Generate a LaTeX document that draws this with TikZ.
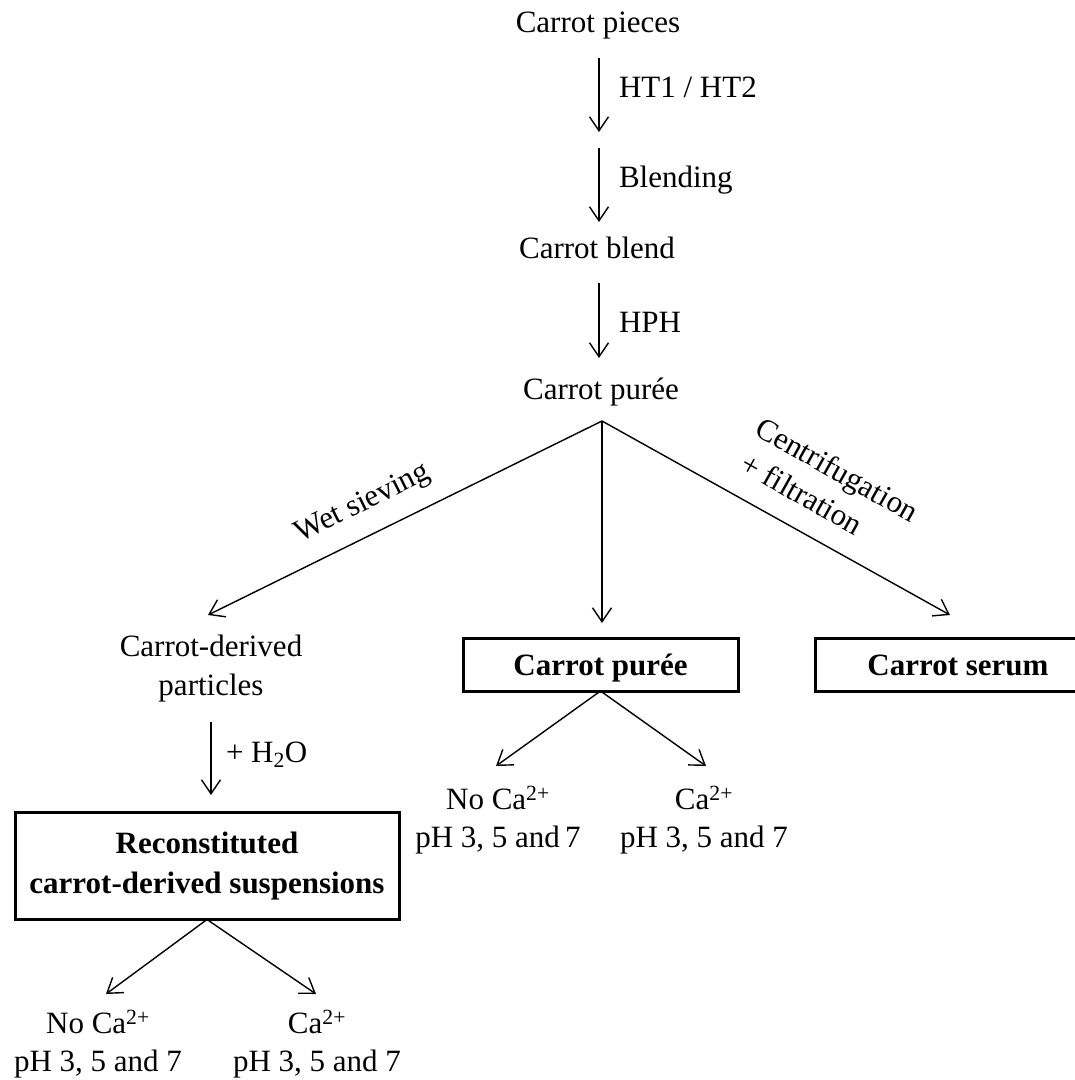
\documentclass[tikz,border=0pt]{standalone}
\usepackage{fontspec}
\setmainfont{Liberation Serif}
\usetikzlibrary{arrows.meta}
\begin{document}
\begin{tikzpicture}[x=1pt,y=-1pt,
  txt/.style={font=\fontsize{31}{38.6}\selectfont, inner sep=0pt, outer sep=0pt},
  arr/.style={-{Straight Barb[length=14pt,width=19pt]}, line width=1.4pt},
  box/.style={draw, line width=3pt, inner sep=0pt, outer sep=0pt,
    font=\fontsize{31}{39.4}\selectfont\bfseries, align=center}]
\useasboundingbox (0,0) rectangle (1075,1080);

% ---- main chain
\node[txt, anchor=base] (pieces) at (598,32) {Carrot pieces};
\node[txt, anchor=base] (blend) at (597,258) {Carrot blend};
\node[txt, anchor=base] (puree) at (601,399) {Carrot purée};

\coordinate (a1s) at (599,58);  \coordinate (a1e) at (599,132);
\coordinate (a2s) at (599,148); \coordinate (a2e) at (599,222);
\coordinate (a3s) at (599,283); \coordinate (a3e) at (599,358);
\draw[arr] (a1s) -- (a1e);
\draw[arr] (a2s) -- (a2e);
\draw[arr] (a3s) -- (a3e);
\node[txt, anchor=base west] (lht) at (619,97) {HT1 / HT2};
\node[txt, anchor=base west] (lblend) at (619,187) {Blending};
\node[txt, anchor=base west] (lhph) at (619,332) {HPH};

% ---- branching
\coordinate (bp) at (602,421);
\coordinate (eL) at (208,615);
\coordinate (eM) at (602,623);
\coordinate (eR) at (950,615);
\draw[arr] (bp) -- (eL);
\draw[arr] (bp) -- (eM);
\draw[arr] (bp) -- (eR);
\node[txt, rotate=26.4] (lwet) at (363,504) {Wet sieving};
\node[txt, rotate=-29.3, align=left] (lcent) at (828,486)
  {Centrifugation\\\hspace*{5pt}+ filtration};

% ---- left branch
\node[txt, align=center] (particles) at (211,668.5) {Carrot-derived\\particles};
\coordinate (h2s) at (211,722); \coordinate (h2e) at (211,795);
\draw[arr] (h2s) -- (h2e);
\node[txt, anchor=base west] (lh2o) at (226,762) {+ H\textsubscript{2}O};
\node[box, minimum width=384pt, minimum height=107pt] (recon) at (207,866)
  {Reconstituted\\carrot-derived suspensions};
\coordinate (rL) at (106,994); \coordinate (rR) at (316,994);
\draw[arr] (recon.south) -- (rL);
\draw[arr] (recon.south) -- (rR);
\node[txt, align=center] (rlab1) at (98,1044) {No Ca\textsuperscript{2+}\\pH 3, 5 and 7};
\node[txt, align=center] (rlab2) at (317,1044) {Ca\textsuperscript{2+}\\pH 3, 5 and 7};

% ---- middle branch
\node[box, minimum width=275pt, minimum height=53pt, text height=21pt, text depth=0pt] (bpuree) at (600.5,664.5) {Carrot purée};
\coordinate (mL) at (496,766); \coordinate (mR) at (706,766);
\draw[arr] (bpuree.south) -- (mL);
\draw[arr] (bpuree.south) -- (mR);
\node[txt, align=center] (mlab1) at (498,820) {No Ca\textsuperscript{2+}\\pH 3, 5 and\,7};
\node[txt, align=center] (mlab2) at (704,820) {Ca\textsuperscript{2+}\\pH 3, 5 and 7};

% ---- right branch
\node[box, minimum width=286pt, minimum height=53pt, text height=21pt, text depth=0pt] (bserum) at (958,664.5) {Carrot serum};
\end{tikzpicture}
\end{document}
